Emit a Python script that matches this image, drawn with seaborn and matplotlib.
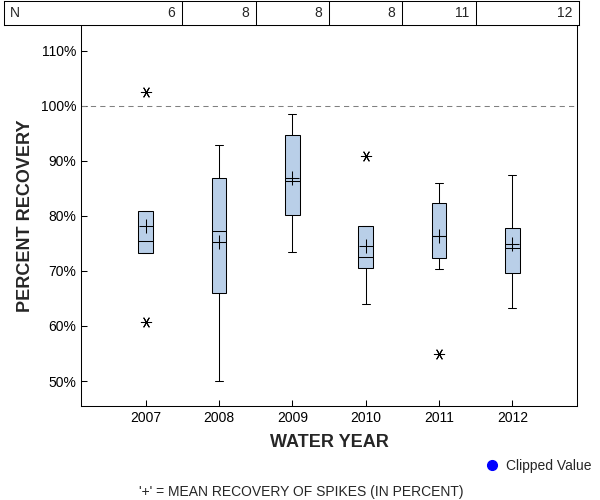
import numpy as np
import pandas as pd
import matplotlib
matplotlib.use('Agg')
import matplotlib.pyplot as plt
from matplotlib.lines import Line2D
import seaborn as sns

# dados
years = ['2007', '2008', '2009', '2010', '2011', '2012']
n_values = [6, 8, 8, 8, 11, 12]
q1 = [73.2, 65.9, 80.2, 70.6, 72.4, 69.7]
medians = [75.4, 77.2, 86.4, 72.6, 76.3, 74.1]
q3 = [80.8, 86.8, 94.7, 78.1, 82.4, 77.7]
whisker_low = [73.2, 50.0, 73.4, 63.9, 70.3, 63.2]
whisker_high = [80.8, 92.9, 98.5, 78.1, 86.0, 87.5]
means = [78.1, 75.3, 86.8, 74.6, 76.4, 74.8]
outliers = [[102.5, 60.8], [], [], [90.9], [54.9], []]
y_ticks = [50, 60, 70, 80, 90, 100, 110]

sns.set_style('ticks')
plt.rcParams['font.family'] = ['Liberation Sans', 'DejaVu Sans']

box_color = '#b9cfe8'
lw = 0.75

fig = plt.figure(figsize=(6, 5), dpi=100)
ax = fig.add_axes([81 / 600, 94 / 500, 496 / 600, 381 / 500])

stats = []
for i in range(len(years)):
    stats.append({'label': years[i], 'q1': q1[i], 'med': medians[i], 'q3': q3[i],
                  'whislo': whisker_low[i], 'whishi': whisker_high[i],
                  'mean': means[i], 'fliers': []})

positions = np.arange(len(years))
ax.bxp(stats, positions=positions, widths=0.2, patch_artist=True,
       showfliers=False, showmeans=False,
       boxprops=dict(facecolor=box_color, edgecolor='black', linewidth=lw),
       medianprops=dict(color='black', linewidth=lw),
       whiskerprops=dict(color='black', linewidth=lw),
       capprops=dict(color='black', linewidth=lw), capwidths=0.11)

# médias (+) e valores extremos (*)
df_mean = pd.DataFrame({'pos': positions, 'mean': means})
sns.scatterplot(data=df_mean, x='pos', y='mean', marker='+', s=110,
                color='black', linewidth=lw, ax=ax, zorder=5)
df_out = pd.DataFrame([(i, v) for i, vals in enumerate(outliers) for v in vals],
                      columns=['pos', 'value'])
sns.scatterplot(data=df_out, x='pos', y='value', marker=(6, 2, 90), s=55,
                color='black', linewidth=lw, ax=ax, zorder=5)

ax.axhline(100, color='#808080', linestyle=(0, (5, 4)), linewidth=lw, zorder=1)

ax.set_xlim(-0.88, 5.88)
ax.set_ylim(45.46, 114.66)
ax.set_xticks(positions)
ax.set_xticklabels(years)
ax.set_yticks(y_ticks)
ax.set_yticklabels([f'{v}%' for v in y_ticks])
ax.tick_params(axis='both', direction='in', length=4, width=lw,
               labelsize=10, colors='black', pad=3.5)
for sp in ax.spines.values():
    sp.set_visible(True)
    sp.set_linewidth(lw)
    sp.set_color('black')
ax.set_xlabel('WATER YEAR', fontsize=13, fontweight='bold', labelpad=6.5)
ax.set_ylabel('PERCENT RECOVERY', fontsize=13, fontweight='bold', labelpad=5)

# tabela de N no topo
px_per_unit = 496 / (5.88 + 0.88)
tab = fig.add_axes([4 / 600, 475 / 500, 575 / 600, 24.5 / 500])
tab.set_xlim(-0.88 - 77 / px_per_unit, 5.88 + 2 / px_per_unit)
tab.set_ylim(0, 1)
tab.set_xticks([])
tab.set_yticks([])
for sp in tab.spines.values():
    sp.set_linewidth(lw)
    sp.set_color('black')
for i in range(len(years) - 1):
    tab.axvline(i + 0.5, color='black', linewidth=lw)
tab.text(6 / 575, 0.5, 'N', transform=tab.transAxes, ha='left', va='center', fontsize=10)
right_edges = [i + 0.5 for i in range(len(years) - 1)] + [tab.get_xlim()[1]]
for i, n in enumerate(n_values):
    tab.annotate(str(n), xy=(right_edges[i], 0.5), xytext=(-5, 0),
                 textcoords='offset points', ha='right', va='center', fontsize=10)

handle = Line2D([], [], marker='o', color='blue', linestyle='', markersize=7)
fig.legend([handle], ['Clipped Value'], loc='center right',
           bbox_to_anchor=(598 / 600, 34 / 500), frameon=False,
           handletextpad=0.5, borderpad=0, fontsize=10, handlelength=1)

fig.text(301 / 600, 8 / 500, "'+' = MEAN RECOVERY OF SPIKES (IN PERCENT)",
         ha='center', va='center', fontsize=10)

fig.savefig('out.png', dpi=100)
